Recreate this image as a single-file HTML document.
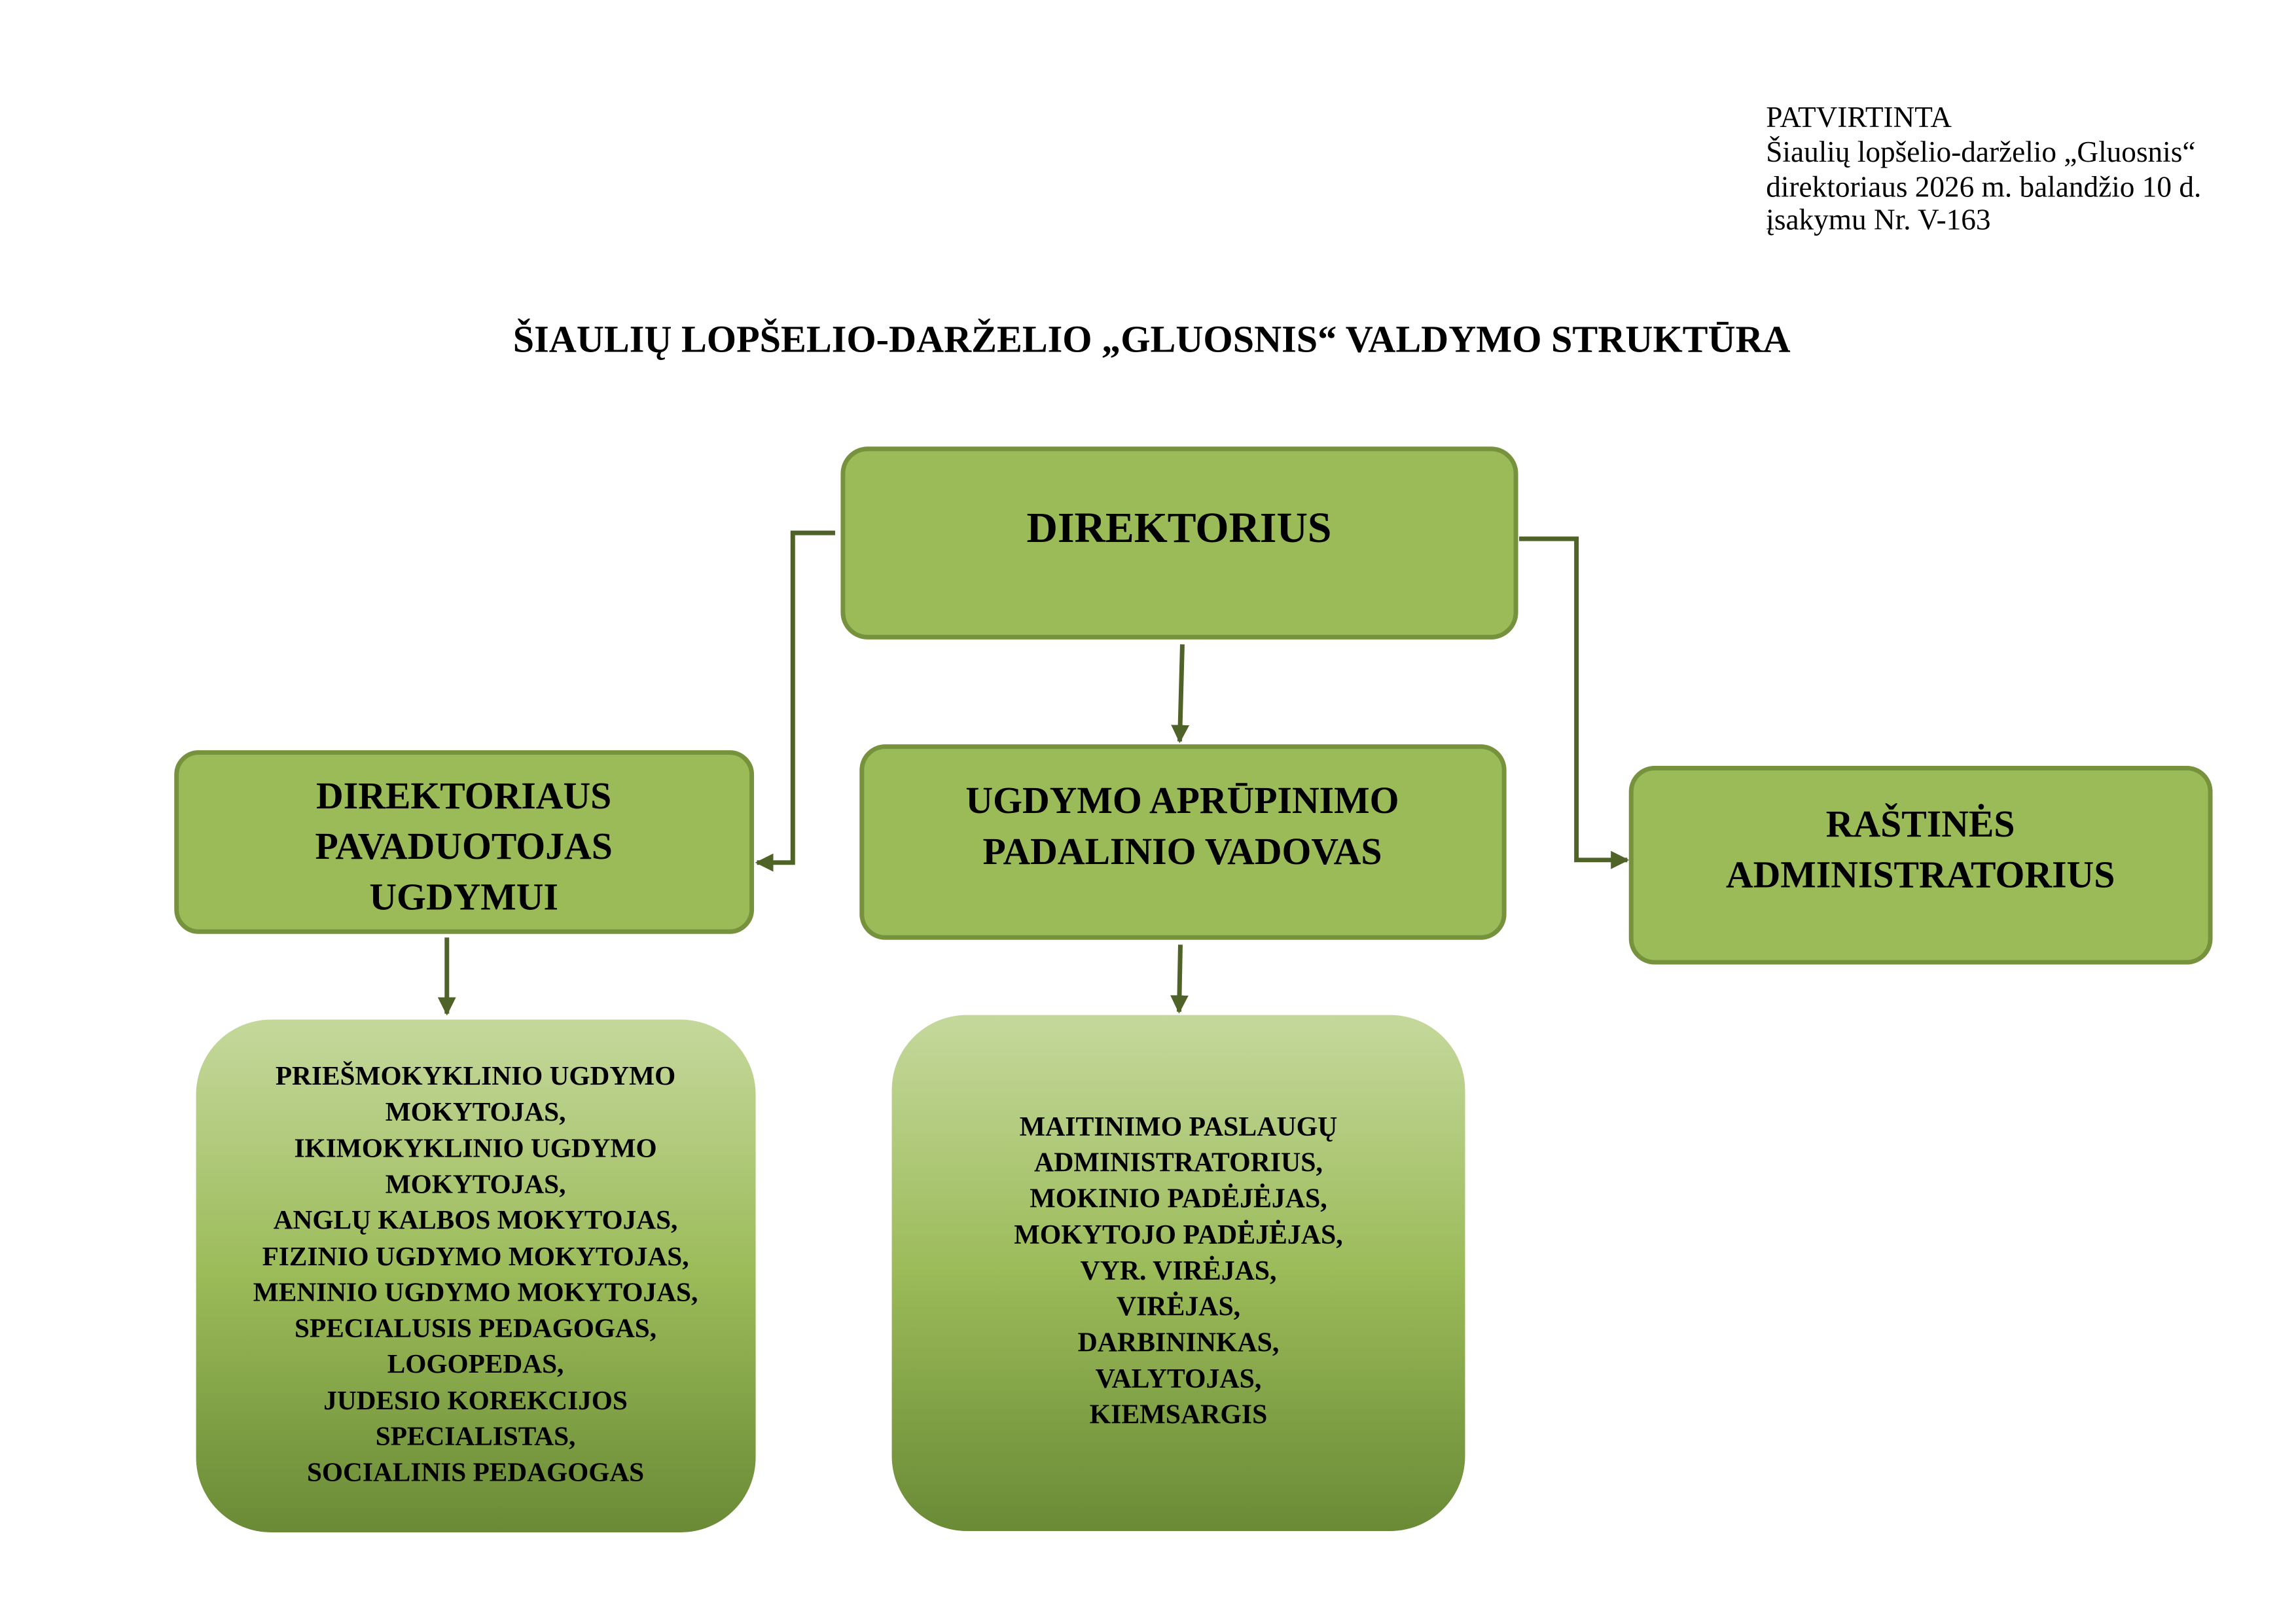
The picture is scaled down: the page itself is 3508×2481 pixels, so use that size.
<!DOCTYPE html>
<html><head><meta charset="utf-8"><style>
html,body{margin:0;padding:0;background:#fff;}
svg{display:block;}
text{font-family:"Liberation Serif",serif;fill:#000;}
</style></head><body>
<svg width="3508" height="2481" viewBox="0 0 3508 2481" xmlns="http://www.w3.org/2000/svg">
<defs>
<linearGradient id="g" x1="0" y1="0" x2="0" y2="1">
<stop offset="0" stop-color="#c5d89c"/>
<stop offset="0.5" stop-color="#9bbb59"/>
<stop offset="1" stop-color="#6a8a36"/>
</linearGradient>
<marker id="a" viewBox="0 0 10 10" refX="9" refY="5" markerWidth="4" markerHeight="4" orient="auto" markerUnits="strokeWidth">
<path d="M0,0 L10,5 L0,10 z" fill="#4f6228"/>
</marker>
</defs>
<g transform="scale(0.9953)">
<g font-size="45.5">
<text x="2711" y="195">PATVIRTINTA</text>
<text x="2711" y="248">Šiaulių lopšelio-darželio „Gluosnis“</text>
<text x="2711" y="302">direktoriaus 2026 m. balandžio 10 d.</text>
<text x="2711" y="352">įsakymu Nr. V-163</text>
</g>
<text x="1768" y="540" font-size="58.5" font-weight="bold" text-anchor="middle">ŠIAULIŲ LOPŠELIO-DARŽELIO „GLUOSNIS“ VALDYMO STRUKTŪRA</text>

<g fill="#9bbb59" stroke="#76923c" stroke-width="7">
<rect x="1294" y="689" width="1033" height="289" rx="38"/>
<rect x="271" y="1155" width="883" height="275" rx="34"/>
<rect x="1323" y="1146" width="986" height="293" rx="36"/>
<rect x="2504" y="1179" width="889" height="298" rx="36"/>
</g>
<rect x="301" y="1565" width="859" height="787" rx="115" fill="url(#g)"/>
<rect x="1369" y="1558" width="880" height="792" rx="115" fill="url(#g)"/>

<g stroke="#4f6228" stroke-width="7" fill="none">
<polyline points="1282,818 1217,818 1217,1324 1162,1324" marker-end="url(#a)"/>
<polyline points="2332,827 2420,827 2420,1320 2498,1320" marker-end="url(#a)"/>
<line x1="1815" y1="989" x2="1811" y2="1138" marker-end="url(#a)"/>
<line x1="686" y1="1439" x2="686" y2="1556" marker-end="url(#a)"/>
<line x1="1812" y1="1450" x2="1810" y2="1553" marker-end="url(#a)"/>
</g>

<g font-weight="bold" text-anchor="middle">
<text x="1810" y="832" font-size="66">DIREKTORIUS</text>
<g font-size="58">
<text x="712" y="1241">DIREKTORIAUS</text>
<text x="712" y="1318">PAVADUOTOJAS</text>
<text x="712" y="1396">UGDYMUI</text>
<text x="1815" y="1248">UGDYMO APRŪPINIMO</text>
<text x="1815" y="1326">PADALINIO VADOVAS</text>
<text x="2948" y="1284">RAŠTINĖS</text>
<text x="2948" y="1362">ADMINISTRATORIUS</text>
</g>
<g font-size="41.5">
<text x="730" y="1665">PRIEŠMOKYKLINIO UGDYMO</text>
<text x="730" y="1720">MOKYTOJAS,</text>
<text x="730" y="1776">IKIMOKYKLINIO UGDYMO</text>
<text x="730" y="1831">MOKYTOJAS,</text>
<text x="730" y="1886">ANGLŲ KALBOS MOKYTOJAS,</text>
<text x="730" y="1942">FIZINIO UGDYMO MOKYTOJAS,</text>
<text x="730" y="1997">MENINIO UGDYMO MOKYTOJAS,</text>
<text x="730" y="2052">SPECIALUSIS PEDAGOGAS,</text>
<text x="730" y="2107">LOGOPEDAS,</text>
<text x="730" y="2163">JUDESIO KOREKCIJOS</text>
<text x="730" y="2218">SPECIALISTAS,</text>
<text x="730" y="2273">SOCIALINIS PEDAGOGAS</text>
</g>
<g font-size="42">
<text x="1809" y="1743">MAITINIMO PASLAUGŲ</text>
<text x="1809" y="1798">ADMINISTRATORIUS,</text>
<text x="1809" y="1853">MOKINIO PADĖJĖJAS,</text>
<text x="1809" y="1909">MOKYTOJO PADĖJĖJAS,</text>
<text x="1809" y="1964">VYR. VIRĖJAS,</text>
<text x="1809" y="2019">VIRĖJAS,</text>
<text x="1809" y="2074">DARBININKAS,</text>
<text x="1809" y="2130">VALYTOJAS,</text>
<text x="1809" y="2185">KIEMSARGIS</text>
</g>
</g>
</g>
</svg>
</body></html>
